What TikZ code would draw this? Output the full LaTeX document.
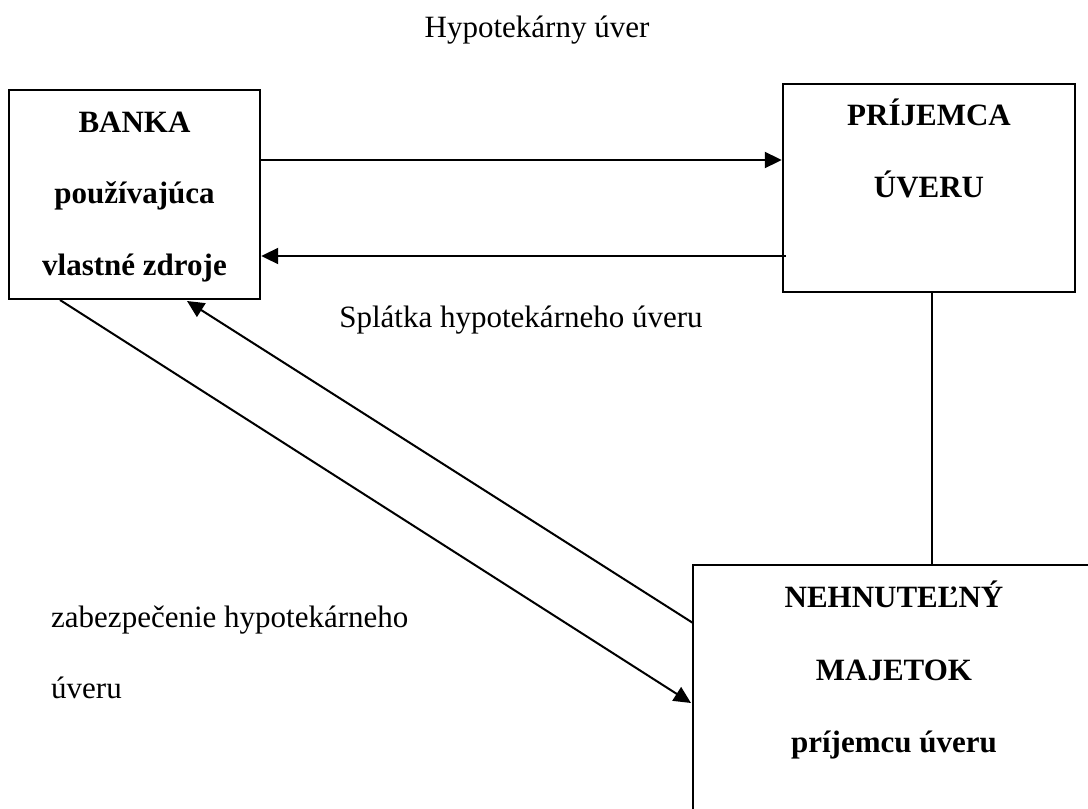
\documentclass[tikz,border=0pt]{standalone}
\usepackage{fontspec}
\setmainfont{Liberation Serif}
\usetikzlibrary{arrows.meta}
\begin{document}
\begin{tikzpicture}[x=1pt,y=-1pt,
  box/.style={draw, line width=2.4pt, rectangle, inner sep=0pt},
  lab/.style={anchor=base, inner sep=0pt, font=\fontsize{31}{37}\selectfont},
  blab/.style={lab, font=\fontsize{31}{37}\selectfont\bfseries},
  conn/.style={line width=2pt},
  arr/.style={conn, -{Triangle[length=17pt,width=16pt]}}]
\useasboundingbox (0,0) rectangle (1088,809);
\clip (0,0) rectangle (1088,809);
% boxes
\node[box, minimum width=251pt, minimum height=209pt] (banka) at (134.5,194.5) {};
\node[box, minimum width=292pt, minimum height=208pt] (prij) at (929,188) {};
\node[box, minimum width=420pt, minimum height=280pt] (nehn) at (903,705) {};
% texts
\node[lab] (title) at (537,37) {Hypotekárny úver};
\node[blab] (b1) at (134.5,132) {BANKA};
\node[blab] (b2) at (134.5,203) {používajúca};
\node[blab] (b3) at (134.5,275) {vlastné zdroje};
\node[blab] (p1) at (929,125) {PRÍJEMCA};
\node[blab] (p2) at (929,197) {ÚVERU};
\node[blab] (n1) at (894,607) {NEHNUTEĽNÝ};
\node[blab] (n2) at (894,680) {MAJETOK};
\node[blab] (n3) at (894,752) {príjemcu úveru};
\node[lab] (spl) at (521,327) {Splátka hypotekárneho úveru};
\node[lab, anchor=base west] (zab1) at (51,627) {zabezpečenie hypotekárneho};
\node[lab, anchor=base west] (zab2) at (51,698) {úveru};
% connector end points
\coordinate (bE1) at (banka.east |- 0,160);
\coordinate (pW1) at (prij.west |- 0,160);
\coordinate (pW2) at (786,256);
\coordinate (bE2) at (banka.east |- 0,256);
\coordinate (pS) at (prij.south -| 932,0);
\coordinate (nN) at (nehn.north -| 932,0);
\coordinate (bS1) at (60,300);
\coordinate (nW1) at (691,703);
\coordinate (nW2) at (693,623);
\coordinate (bS2) at (187,301);
% connectors
\draw[arr] (bE1) -- (pW1);
\draw[arr] (pW2) -- (bE2);
\draw[conn] (pS) -- (nN);
\draw[arr] (bS1) -- (nW1);
\draw[arr] (nW2) -- (bS2);
\end{tikzpicture}
\end{document}
